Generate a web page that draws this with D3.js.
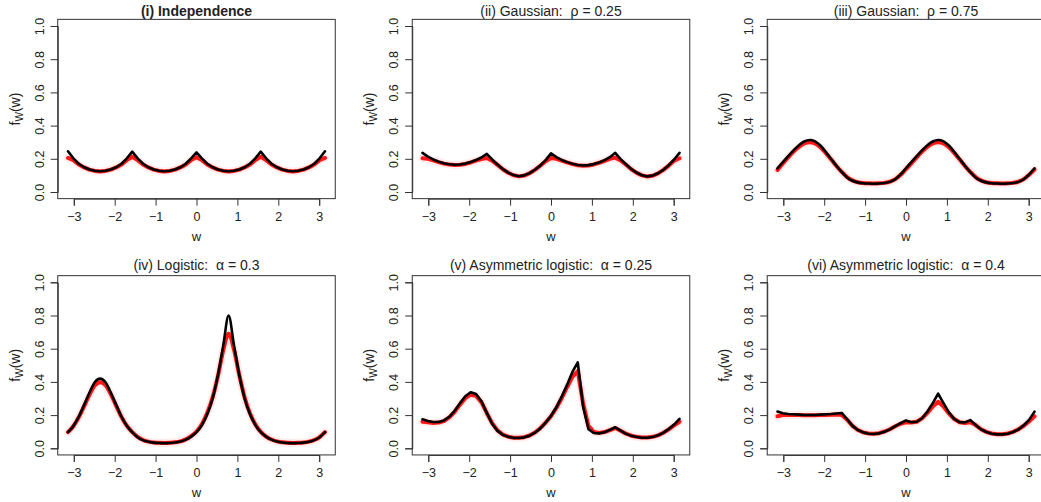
<!DOCTYPE html>
<html>
<head>
<meta charset="utf-8">
<script src="https://cdn.jsdelivr.net/npm/d3@7"></script>
<style>
  html, body { margin: 0; padding: 0; background: #fff; }
  svg { display: block; font-family: "Liberation Sans", Arial, sans-serif; }
  text { white-space: pre; }
</style>
</head>
<body>
<svg id="chart" width="1041" height="502"></svg>
<script>
// Angle grid shared by every panel (w from -pi to pi)
const w = [-3.1416, -3.0107, -2.8798, -2.7489, -2.6180, -2.4871, -2.3562, -2.2253, -2.0944, -1.9635,
  -1.8326, -1.7017, -1.5708, -1.4399, -1.3090, -1.1781, -1.0472, -0.9163, -0.7854, -0.6545,
  -0.5236, -0.3927, -0.2618, -0.1309, 0, 0.1309, 0.2618, 0.3927, 0.5236, 0.6545,
  0.7854, 0.9163, 1.0472, 1.1781, 1.3090, 1.4399, 1.5708, 1.7017, 1.8326, 1.9635,
  2.0944, 2.2253, 2.3562, 2.4871, 2.6180, 2.7489, 2.8798, 3.0107, 3.1416];

// (i) Independence: true density (black) and fitted estimates (red)
const indepTrue = [0.245, 0.203, 0.170, 0.149, 0.136, 0.128, 0.125, 0.128, 0.136, 0.149, 0.170, 0.203,
  0.243, 0.203, 0.170, 0.149, 0.136, 0.128, 0.125, 0.128, 0.136, 0.149, 0.170, 0.203,
  0.238, 0.203, 0.170, 0.149, 0.136, 0.128, 0.125, 0.128, 0.136, 0.149, 0.170, 0.203,
  0.243, 0.203, 0.170, 0.149, 0.136, 0.128, 0.125, 0.128, 0.136, 0.149, 0.170, 0.203, 0.245];
const indepFit = [0.205, 0.192, 0.166, 0.148, 0.135, 0.127, 0.124, 0.127, 0.135, 0.148, 0.166, 0.192,
  0.212, 0.192, 0.166, 0.148, 0.135, 0.127, 0.124, 0.127, 0.135, 0.148, 0.166, 0.192,
  0.210, 0.192, 0.166, 0.148, 0.135, 0.127, 0.124, 0.127, 0.135, 0.148, 0.166, 0.192,
  0.212, 0.192, 0.166, 0.148, 0.135, 0.127, 0.124, 0.127, 0.135, 0.148, 0.166, 0.192, 0.205];

// (ii) Gaussian, rho = 0.25
const gauss25True = [0.236, 0.213, 0.196, 0.183, 0.173, 0.167, 0.164, 0.166, 0.171, 0.180, 0.193, 0.208,
  0.230, 0.196, 0.166, 0.138, 0.117, 0.102, 0.095, 0.100, 0.114, 0.134, 0.160, 0.192,
  0.233, 0.210, 0.193, 0.180, 0.170, 0.163, 0.160, 0.162, 0.168, 0.178, 0.192, 0.210,
  0.236, 0.198, 0.167, 0.138, 0.116, 0.101, 0.094, 0.099, 0.113, 0.134, 0.162, 0.196, 0.236];
const gauss25Fit = [0.203, 0.200, 0.190, 0.180, 0.171, 0.165, 0.162, 0.164, 0.169, 0.178, 0.189, 0.198,
  0.205, 0.188, 0.163, 0.137, 0.116, 0.101, 0.094, 0.099, 0.113, 0.133, 0.158, 0.185,
  0.205, 0.200, 0.189, 0.178, 0.168, 0.161, 0.158, 0.160, 0.166, 0.176, 0.188, 0.200,
  0.207, 0.190, 0.164, 0.137, 0.115, 0.100, 0.093, 0.098, 0.112, 0.133, 0.159, 0.188, 0.203];

// (iii) Gaussian, rho = 0.75
const gauss75True = [0.143, 0.180, 0.216, 0.251, 0.282, 0.304, 0.313, 0.305, 0.280, 0.242, 0.200, 0.158,
  0.120, 0.088, 0.068, 0.058, 0.053, 0.051, 0.050, 0.051, 0.054, 0.061, 0.077, 0.106,
  0.143, 0.180, 0.216, 0.251, 0.282, 0.304, 0.313, 0.305, 0.280, 0.242, 0.200, 0.158,
  0.120, 0.088, 0.068, 0.058, 0.053, 0.051, 0.050, 0.051, 0.054, 0.061, 0.077, 0.106, 0.143];
const gauss75Fit = [0.133, 0.172, 0.209, 0.243, 0.272, 0.292, 0.300, 0.293, 0.270, 0.236, 0.197, 0.157,
  0.121, 0.090, 0.070, 0.059, 0.054, 0.052, 0.051, 0.052, 0.055, 0.062, 0.078, 0.104,
  0.138, 0.172, 0.209, 0.243, 0.272, 0.292, 0.300, 0.293, 0.270, 0.236, 0.197, 0.157,
  0.121, 0.090, 0.070, 0.059, 0.054, 0.052, 0.051, 0.052, 0.055, 0.062, 0.078, 0.104, 0.135];

// (iv) Logistic, alpha = 0.3
const logistTrue = [0.097, 0.135, 0.190, 0.261, 0.335, 0.398, 0.420, 0.398, 0.335, 0.261, 0.190, 0.135,
  0.097, 0.067, 0.049, 0.039, 0.034, 0.032, 0.031, 0.032, 0.035, 0.041, 0.052, 0.070,
  0.097, 0.140, 0.205, 0.300, 0.440, 0.620, 0.800, 0.620, 0.440, 0.300, 0.205, 0.140,
  0.097, 0.070, 0.052, 0.041, 0.035, 0.032, 0.031, 0.032, 0.034, 0.039, 0.049, 0.067, 0.097];
const logistFit = [0.097, 0.133, 0.186, 0.253, 0.322, 0.378, 0.398, 0.380, 0.325, 0.256, 0.188, 0.135,
  0.098, 0.069, 0.050, 0.040, 0.035, 0.033, 0.032, 0.033, 0.036, 0.042, 0.054, 0.073,
  0.101, 0.145, 0.212, 0.305, 0.435, 0.590, 0.690, 0.595, 0.440, 0.305, 0.210, 0.144,
  0.099, 0.071, 0.053, 0.042, 0.036, 0.033, 0.032, 0.033, 0.035, 0.040, 0.050, 0.068, 0.097];

// (v) Asymmetric logistic, alpha = 0.25
const alog25True = [0.175, 0.165, 0.158, 0.158, 0.168, 0.190, 0.226, 0.272, 0.314, 0.338, 0.327, 0.283,
  0.213, 0.148, 0.105, 0.081, 0.069, 0.063, 0.062, 0.066, 0.076, 0.094, 0.120, 0.155,
  0.195, 0.247, 0.311, 0.382, 0.460, 0.518, 0.250, 0.115, 0.092, 0.090, 0.097, 0.111,
  0.127, 0.106, 0.087, 0.075, 0.068, 0.064, 0.064, 0.068, 0.078, 0.094, 0.116, 0.143, 0.177];
const alog25Fit = [0.160, 0.157, 0.153, 0.155, 0.164, 0.186, 0.220, 0.263, 0.302, 0.323, 0.316, 0.278,
  0.213, 0.152, 0.108, 0.083, 0.070, 0.064, 0.063, 0.067, 0.077, 0.095, 0.121, 0.155,
  0.193, 0.243, 0.302, 0.368, 0.430, 0.465, 0.270, 0.135, 0.098, 0.093, 0.098, 0.110,
  0.122, 0.106, 0.088, 0.076, 0.069, 0.065, 0.065, 0.069, 0.078, 0.094, 0.114, 0.138, 0.160];

// (vi) Asymmetric logistic, alpha = 0.4
const alog40True = [0.221, 0.211, 0.207, 0.205, 0.203, 0.201, 0.201, 0.201, 0.203, 0.205, 0.207, 0.210,
  0.213, 0.175, 0.135, 0.110, 0.096, 0.088, 0.086, 0.090, 0.100, 0.114, 0.133, 0.151,
  0.168, 0.157, 0.160, 0.181, 0.222, 0.272, 0.330, 0.272, 0.216, 0.177, 0.157, 0.156,
  0.170, 0.141, 0.114, 0.098, 0.088, 0.084, 0.084, 0.088, 0.098, 0.114, 0.139, 0.171, 0.221];
const alog40Fit = [0.193, 0.200, 0.201, 0.201, 0.200, 0.199, 0.199, 0.199, 0.200, 0.201, 0.202, 0.203,
  0.200, 0.172, 0.135, 0.110, 0.096, 0.089, 0.087, 0.091, 0.101, 0.115, 0.133, 0.148,
  0.157, 0.155, 0.160, 0.180, 0.213, 0.252, 0.280, 0.252, 0.210, 0.176, 0.157, 0.153,
  0.157, 0.140, 0.115, 0.099, 0.089, 0.085, 0.085, 0.089, 0.099, 0.114, 0.136, 0.162, 0.193];

const titles = ["(i) Independence", "(ii) Gaussian:\u00A0\u00A0\u03C1 = 0.25", "(iii) Gaussian:\u00A0\u00A0\u03C1 = 0.75",
  "(iv) Logistic:\u00A0\u00A0\u03B1 = 0.3", "(v) Asymmetric logistic:\u00A0\u00A0\u03B1 = 0.25",
  "(vi) Asymmetric logistic:\u00A0\u00A0\u03B1 = 0.4"];
const trueSeries = [indepTrue, gauss25True, gauss75True, logistTrue, alog25True, alog40True];
const fitSeries = [indepFit, gauss25Fit, gauss75Fit, logistFit, alog25Fit, alog40Fit];
const xTicks = [-3, -2, -1, 0, 1, 2, 3];
const yTicks = [0, 0.2, 0.4, 0.6, 0.8, 1.0];

// Layout of the 2 x 3 grid of panels
const colCentre = [196.5, 551, 906];   // pixel x of w = 0
const rowZero = [192, 448.3];          // pixel y of f = 0
const unitX = 40.9;                    // pixels per unit of w
const unitY = 166;                     // pixels per unit of density
// panels whose densities are smooth get a smooth curve; the others keep their cusps
const smoothPanel = [false, false, true, true, false, false];

const svg = d3.select("#chart");
const ink = "#222";

titles.forEach((title, i) => {
  const col = i % 3, row = Math.floor(i / 3);
  const x = d3.scaleLinear().domain([-3, 3]).range([colCentre[col] - 3 * unitX, colCentre[col] + 3 * unitX]);
  const y = d3.scaleLinear().domain([0, 1]).range([rowZero[row], rowZero[row] - unitY]);
  const xPad = Math.PI * 1.08, yLo = -0.04, yHi = 1.04;
  const g = svg.append("g");

  const line = d3.line().x((d, k) => x(w[k])).y(d => y(d))
    .curve(smoothPanel[i] ? d3.curveMonotoneX : d3.curveLinear);

  // fitted curves: faint halo plus red core
  g.append("path").attr("d", line(fitSeries[i]))
    .attr("fill", "none").attr("stroke", "#ff0000").attr("stroke-opacity", 0.07)
    .attr("stroke-width", 8).attr("stroke-linejoin", "round").attr("stroke-linecap", "round");
  g.append("path").attr("d", line(fitSeries[i]))
    .attr("fill", "none").attr("stroke", "#ff0000").attr("stroke-opacity", 0.9)
    .attr("stroke-width", 4).attr("stroke-linejoin", "round").attr("stroke-linecap", "round");
  // true density
  g.append("path").attr("d", line(trueSeries[i]))
    .attr("fill", "none").attr("stroke", "#000").attr("stroke-width", 2.6)
    .attr("stroke-linejoin", "round").attr("stroke-linecap", "round");

  // plot box
  g.append("rect")
    .attr("x", x(-xPad)).attr("y", y(yHi))
    .attr("width", x(xPad) - x(-xPad)).attr("height", y(yLo) - y(yHi))
    .attr("fill", "none").attr("stroke", "#333").attr("stroke-width", 1);

  // x axis
  const bottom = y(yLo);
  const gx = g.append("g").attr("transform", `translate(0,${bottom})`)
    .call(d3.axisBottom(x).tickValues(xTicks).tickSizeOuter(0).tickSize(7).tickPadding(6).tickFormat(d3.format("d")));
  gx.select(".domain").attr("stroke", "#333");
  gx.selectAll(".tick line").attr("stroke", "#333");
  gx.selectAll(".tick text").attr("font-size", 12.5).attr("fill", ink)
    .attr("font-family", "Liberation Sans, Arial, sans-serif");

  // y axis with rotated labels
  const left = x(-xPad);
  const gy = g.append("g").attr("transform", `translate(${left},0)`)
    .call(d3.axisLeft(y).tickValues(yTicks).tickSizeOuter(0).tickSize(7).tickFormat(d3.format(".1f")));
  gy.select(".domain").attr("stroke", "#333");
  gy.selectAll(".tick line").attr("stroke", "#333");
  gy.selectAll(".tick text")
    .attr("font-size", 12.5).attr("fill", ink).attr("font-family", "Liberation Sans, Arial, sans-serif")
    .attr("x", null).attr("dy", null)
    .attr("text-anchor", "middle")
    .attr("transform", "translate(-14,0) rotate(-90)");

  // axis titles
  g.append("text").attr("x", x(0)).attr("y", bottom + 42)
    .attr("text-anchor", "middle").attr("font-size", 13).attr("fill", ink).text("w");
  const mid = (y(yLo) + y(yHi)) / 2;
  const yl = g.append("text").attr("transform", `translate(${left - 38},${mid}) rotate(-90)`)
    .attr("text-anchor", "middle").attr("font-size", 14).attr("fill", ink);
  yl.append("tspan").text("f");
  yl.append("tspan").attr("font-size", 10).attr("dy", 3).text("W");
  yl.append("tspan").attr("dy", -3).text("(w)");

  // panel title
  g.append("text").attr("x", x(0)).attr("y", row === 0 ? 15.5 : 269.5)
    .attr("text-anchor", "middle").attr("font-size", 14).attr("fill", ink)
    .attr("font-weight", i === 0 ? "bold" : "normal").text(title);
});
</script>
</body>
</html>
